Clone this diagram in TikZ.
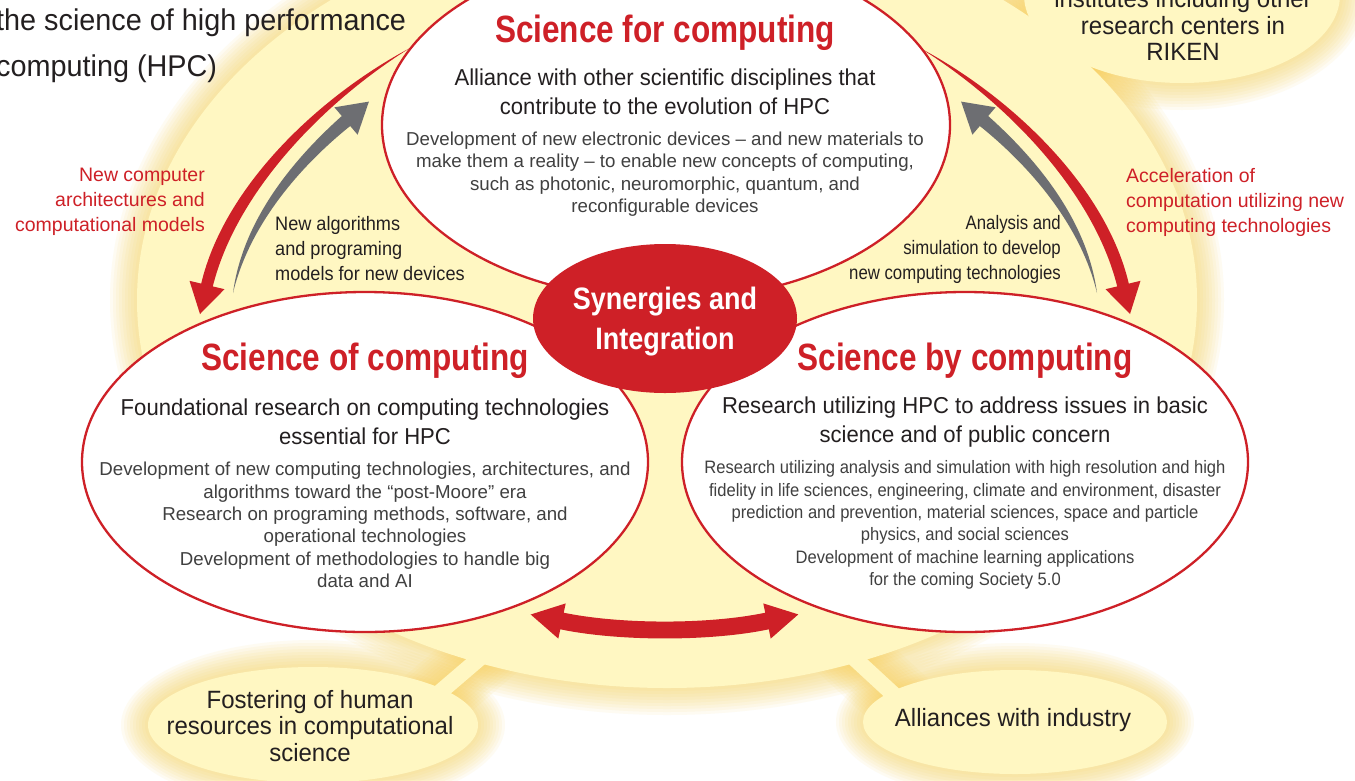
\documentclass[tikz,border=0pt]{standalone}
\usepackage{fontspec}
\setmainfont{Liberation Sans}
\newfontfamily\condf[FakeStretch=0.96]{Liberation Sans}
\newfontfamily\labelf[FakeStretch=0.93]{Liberation Sans}
\newfontfamily\labelrf[FakeStretch=0.86]{Liberation Sans}
\newfontfamily\bubf[FakeStretch=0.96]{Liberation Sans}
\newfontfamily\hdrf[FakeStretch=0.96]{Liberation Sans}
\newfontfamily\titlef[FakeStretch=0.83]{Liberation Sans}
\newfontfamily\synf[FakeStretch=0.87]{Liberation Sans}
\newfontfamily\bodyrf[FakeStretch=0.92]{Liberation Sans}
\usetikzlibrary{shapes.geometric}
\definecolor{redc}{RGB}{206,32,39}
\definecolor{fillY}{RGB}{255,247,194}
\definecolor{glowY}{RGB}{248,210,90}
\definecolor{greyA}{RGB}{109,110,114}
\definecolor{darkT}{RGB}{35,31,32}
\definecolor{greyT}{RGB}{64,64,64}
\newcommand\sidearrowsdraw{%
  \fill[redc] (410,48) .. controls (318,97) and (224,187) .. (201.2,283.6) -- (189.5,280.8) -- (200,314) -- (224.5,289.2) -- (212.8,286.4) .. controls (236,193) and (322,103) .. (410,48) -- cycle;
  \fill[greyA] (233,293) .. controls (243,218) and (296,157) .. (341.8,116) -- (334.4,107.3) -- (368.9,101.6) -- (357.6,134.7) -- (350.2,126) .. controls (304,163) and (250,222) .. (233,293) -- cycle;
}
\begin{document}
\begin{tikzpicture}[x=1pt,y=-1pt,
  whiteell/.style={ellipse, draw=redc, line width=2.3pt, fill=white, inner sep=0pt},
  bubble/.style={ellipse, fill=fillY, inner sep=0pt},
  titletext/.style={font=\titlef\bfseries\fontsize{38}{42}\selectfont, text=redc, inner sep=0pt},
  subtext/.style={font=\condf\fontsize{23}{28.5}\selectfont, text=darkT, align=center, inner sep=0pt},
  bodytext/.style={font=\fontsize{18.7}{22.4}\selectfont, text=greyT, align=center, inner sep=0pt},
  bodyrtext/.style={font=\bodyrf\fontsize{18}{22.4}\selectfont, text=greyT, align=center, inner sep=0pt},
  redlabel/.style={font=\fontsize{19.5}{25}\selectfont, text=redc, inner sep=0pt},
  darklabel/.style={font=\labelf\fontsize{19.5}{25}\selectfont, text=darkT, inner sep=0pt},
  darkrlabel/.style={font=\labelrf\fontsize{19.5}{25}\selectfont, text=darkT, inner sep=0pt},
  bubtext/.style={font=\bubf\fontsize{25}{26.5}\selectfont, text=darkT, align=center, inner sep=0pt},
]
\useasboundingbox (0,0) rectangle (1355,780);
\clip (0,0) rectangle (1355,780);
\fill[white] (0,0) rectangle (1355,780);

% stem end points
\coordinate (s1a) at (1035,100); \coordinate (s1b) at (1100,40);
\coordinate (s2a) at (425,705);  \coordinate (s2b) at (495,645);
\coordinate (s3a) at (840,645);  \coordinate (s3b) at (905,705);

% glow
\foreach \i in {1,...,9}{
  \fill[glowY, opacity=0.08] (667,300) ellipse [x radius=530pt+3pt*\i, y radius=388pt+3pt*\i];
  \fill[glowY, opacity=0.08] (1182,-5) ellipse [x radius=158pt+3pt*\i, y radius=88pt+3pt*\i];
  \fill[glowY, opacity=0.08] (313,725) ellipse [x radius=165pt+3pt*\i, y radius=58pt+3pt*\i];
  \fill[glowY, opacity=0.08] (1015,722) ellipse [x radius=152pt+3pt*\i, y radius=52pt+3pt*\i];
  \draw[glowY, opacity=0.08, line width=16pt+6pt*\i] (s1a) -- (s1b);
  \draw[glowY, opacity=0.08, line width=16pt+6pt*\i] (s2a) -- (s2b);
  \draw[glowY, opacity=0.08, line width=16pt+6pt*\i] (s3a) -- (s3b);
}
\draw[fillY, line width=16pt] (s1a) -- (s1b);
\draw[fillY, line width=16pt] (s2a) -- (s2b);
\draw[fillY, line width=16pt] (s3a) -- (s3b);

% yellow areas
\node[bubble, minimum width=1060pt, minimum height=776pt] (main) at (667,300) {};
\node[bubble, minimum width=316pt, minimum height=176pt] (bubR) at (1182,-5) {};
\node[bubble, minimum width=330pt, minimum height=116pt] (bubF) at (313,725) {};
\node[bubble, minimum width=304pt, minimum height=104pt] (bubA) at (1015,722) {};

% white ellipses
\node[whiteell, minimum width=568pt, minimum height=350pt] (topE) at (666,125) {};
\node[whiteell, minimum width=566pt, minimum height=340pt] (leftE) at (365,462) {};
\node[whiteell, minimum width=566pt, minimum height=340pt] (rightE) at (965,462) {};
\node[ellipse, fill=redc, inner sep=0pt, minimum width=264pt, minimum height=149pt] (synE) at (665,318.5) {};

% arrows
\sidearrowsdraw
\begin{scope}[shift={(1330,0)}, xscale=-1]
  \sidearrowsdraw
\end{scope}
\fill[redc] (563.7,612.7) .. controls (621,624.5) and (709,624.5) .. (765.2,612.7) -- (763.3,603.4) -- (798.3,614.4) -- (770.7,638.6) -- (768.8,629.3) .. controls (711,641.5) and (619,641.5) .. (560.3,629.3) -- (558.3,638.6) -- (530.7,614.5) -- (565.7,603.4) -- cycle;

% texts
\node[font=\hdrf\fontsize{30}{46}\selectfont, text=darkT, anchor=west, align=left, inner sep=0pt] (hdr) at (-4,46) {the science of high performance\\computing (HPC)};
\node[bubtext] (rkT) at (1183,25) {institutes including other\\research centers in\\RIKEN};
\node[bubtext] (fhT) at (310,726) {Fostering of human\\resources in computational\\science};
\node[bubtext] (aiT) at (1013,720) {Alliances with industry};

\node[titletext] (t1) at (665,33) {Science for computing};
\node[subtext] (s1) at (665,92) {Alliance with other scientific disciplines that\\contribute to the evolution of HPC};
\node[bodytext] (b1) at (665,174) {Development of new electronic devices – and new materials to\\make them a reality – to enable new concepts of computing,\\such as photonic, neuromorphic, quantum, and\\reconfigurable devices};

\node[titletext] (t2) at (365,361) {Science of computing};
\node[subtext] (s2) at (365,422) {Foundational research on computing technologies\\essential for HPC};
\node[bodytext] (b2) at (365,525) {Development of new computing technologies, architectures, and\\algorithms toward the “post-Moore” era\\Research on programing methods, software, and\\operational technologies\\Development of methodologies to handle big\\data and AI};

\node[titletext] (t3) at (965,361) {Science by computing};
\node[subtext] (s3) at (965,422) {Research utilizing HPC to address issues in basic\\science and of public concern};
\node[bodyrtext] (b3) at (965,525) {Research utilizing analysis and simulation with high resolution and high\\fidelity in life sciences, engineering, climate and environment, disaster\\prediction and prevention, material sciences, space and particle\\physics, and social sciences\\Development of machine learning applications\\for the coming Society 5.0};

\node[font=\synf\bfseries\fontsize{31}{40}\selectfont, text=white, align=center, inner sep=0pt] (syn) at (665,322) {Synergies and\\Integration};

\node[redlabel, anchor=east, align=right] (l1) at (205,202) {New computer\\architectures and\\computational models};
\node[darklabel, anchor=west, align=left] (l2) at (275,249) {New algorithms\\and programing\\models for new devices};
\node[darkrlabel, anchor=east, align=right] (l3) at (1061,249) {Analysis and\\simulation to develop\\new computing technologies};
\node[redlabel, anchor=west, align=left] (l4) at (1126,202) {Acceleration of\\computation utilizing new\\computing technologies};
\end{tikzpicture}
\end{document}
